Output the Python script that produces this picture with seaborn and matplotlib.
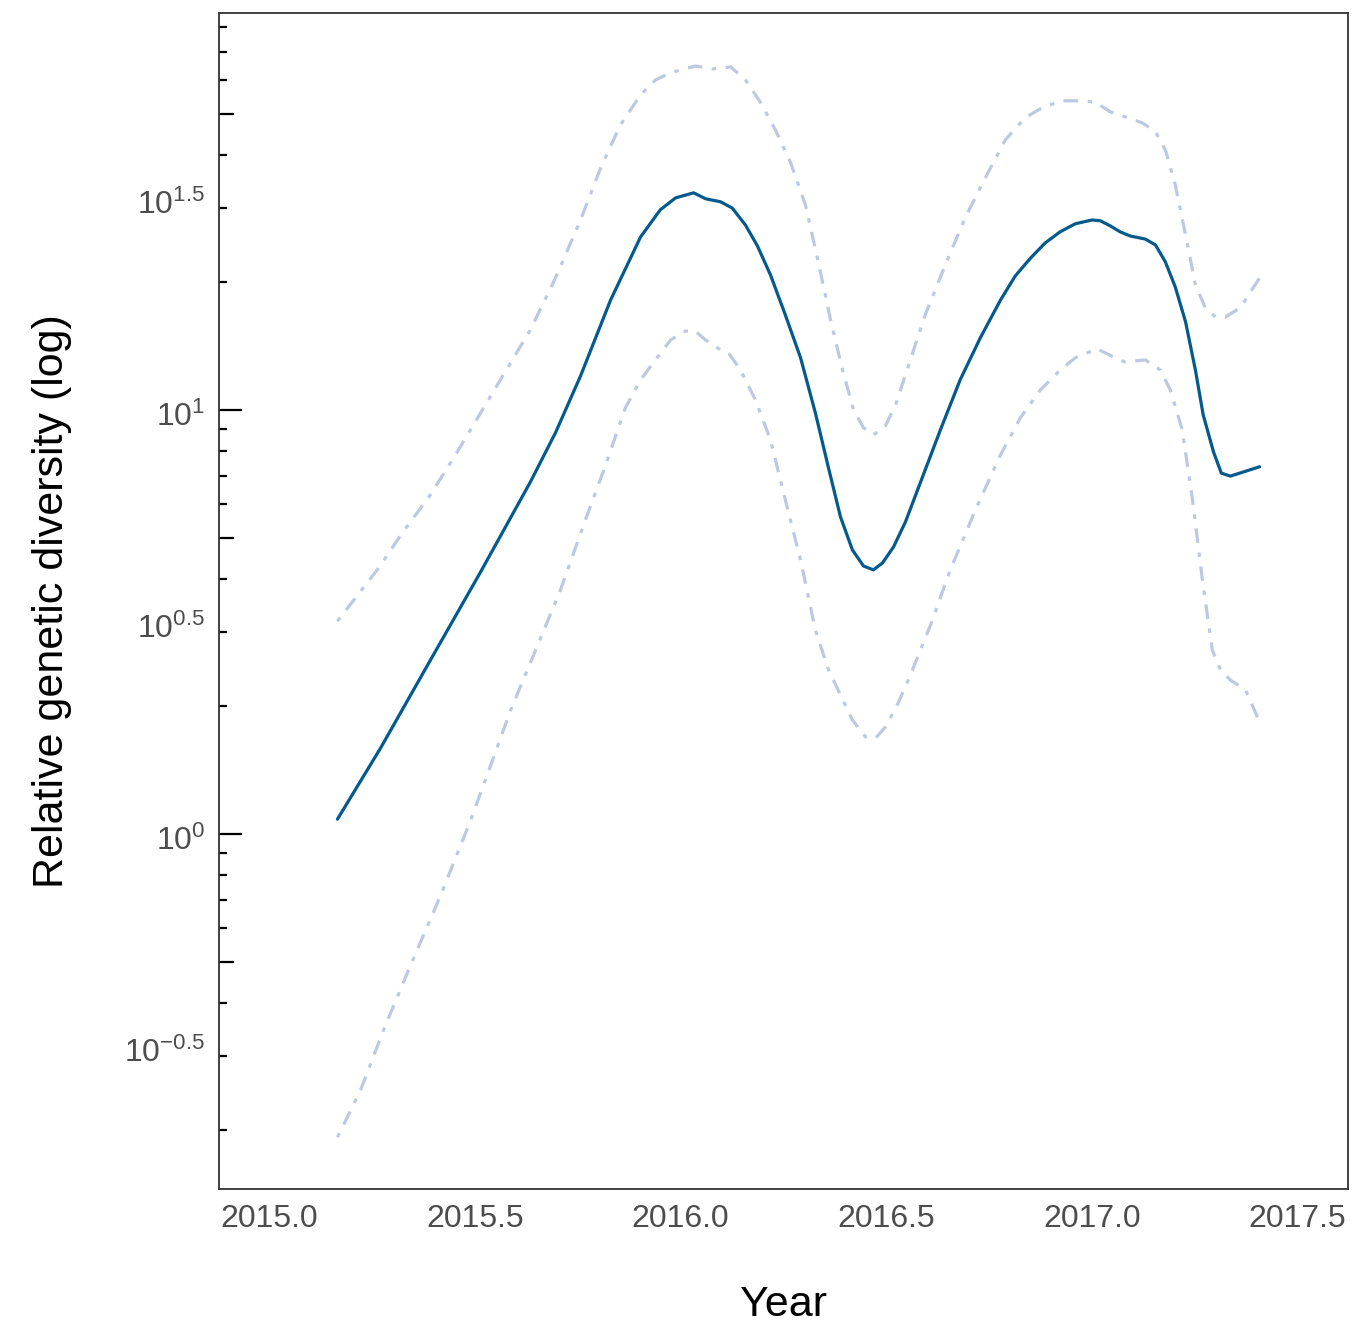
import numpy as np
import pandas as pd
import matplotlib
matplotlib.use("Agg")
import matplotlib.pyplot as plt
import matplotlib.transforms as mtransforms
import seaborn as sns

# ---- data (years, log10 relative genetic diversity) ----
mean_year = [2015.166, 2015.271, 2015.392, 2015.514, 2015.635, 2015.696, 2015.757, 2015.830,
             2015.903, 2015.951, 2015.988, 2016.032, 2016.061, 2016.097, 2016.126, 2016.158,
             2016.187, 2016.219, 2016.255, 2016.292, 2016.328, 2016.360, 2016.389, 2016.418,
             2016.445, 2016.469, 2016.491, 2016.518, 2016.547, 2016.583, 2016.632, 2016.680,
             2016.729, 2016.778, 2016.814, 2016.851, 2016.887, 2016.923, 2016.960, 2017.001,
             2017.021, 2017.045, 2017.069, 2017.094, 2017.130, 2017.155, 2017.179, 2017.203,
             2017.228, 2017.252, 2017.271, 2017.296, 2017.315, 2017.337, 2017.408]
mean_log10 = [0.035, 0.203, 0.410, 0.618, 0.830, 0.946, 1.080, 1.259,
              1.408, 1.472, 1.500, 1.512, 1.498, 1.491, 1.476, 1.436,
              1.387, 1.318, 1.224, 1.123, 0.993, 0.863, 0.748, 0.670,
              0.632, 0.623, 0.639, 0.677, 0.736, 0.828, 0.953, 1.071,
              1.170, 1.259, 1.316, 1.358, 1.394, 1.420, 1.439, 1.448,
              1.446, 1.434, 1.420, 1.410, 1.403, 1.389, 1.349, 1.290,
              1.208, 1.094, 0.988, 0.901, 0.851, 0.844, 0.866]

upper_year = [2015.166, 2015.210, 2015.266, 2015.320, 2015.392, 2015.453, 2015.514, 2015.574,
              2015.635, 2015.696, 2015.757, 2015.806, 2015.854, 2015.903, 2015.939, 2015.976,
              2016.036, 2016.078, 2016.122, 2016.158, 2016.194, 2016.231, 2016.267, 2016.304,
              2016.335, 2016.365, 2016.394, 2016.421, 2016.445, 2016.469, 2016.498, 2016.523,
              2016.559, 2016.595, 2016.644, 2016.692, 2016.741, 2016.790, 2016.838, 2016.887,
              2016.935, 2016.972, 2017.008, 2017.045, 2017.081, 2017.123, 2017.155, 2017.179,
              2017.203, 2017.228, 2017.252, 2017.276, 2017.301, 2017.325, 2017.361, 2017.408]
upper_log10 = [0.502, 0.557, 0.627, 0.705, 0.800, 0.894, 0.993, 1.090,
               1.189, 1.311, 1.448, 1.571, 1.672, 1.743, 1.778, 1.795,
               1.811, 1.804, 1.809, 1.778, 1.726, 1.660, 1.585, 1.483,
               1.349, 1.212, 1.094, 1.000, 0.958, 0.941, 0.962, 1.012,
               1.118, 1.224, 1.342, 1.453, 1.547, 1.637, 1.689, 1.717,
               1.729, 1.729, 1.726, 1.703, 1.691, 1.677, 1.656, 1.613,
               1.531, 1.413, 1.295, 1.241, 1.219, 1.219, 1.241, 1.311]

lower_year = [2015.166, 2015.222, 2015.283, 2015.344, 2015.417, 2015.490, 2015.539, 2015.587,
              2015.648, 2015.708, 2015.769, 2015.818, 2015.866, 2015.903, 2015.939, 2015.976,
              2016.012, 2016.036, 2016.061, 2016.097, 2016.117, 2016.146, 2016.182, 2016.219,
              2016.255, 2016.292, 2016.328, 2016.360, 2016.389, 2016.418, 2016.450, 2016.474,
              2016.498, 2016.527, 2016.559, 2016.608, 2016.656, 2016.717, 2016.778, 2016.826,
              2016.875, 2016.923, 2016.960, 2017.013, 2017.057, 2017.081, 2017.130, 2017.167,
              2017.191, 2017.220, 2017.245, 2017.269, 2017.293, 2017.313, 2017.337, 2017.374,
              2017.408]
lower_log10 = [-0.715, -0.604, -0.450, -0.309, -0.144, 0.033, 0.163, 0.292,
               0.434, 0.575, 0.741, 0.870, 1.005, 1.071, 1.118, 1.165,
               1.186, 1.186, 1.165, 1.142, 1.134, 1.094, 1.024, 0.929,
               0.788, 0.646, 0.481, 0.387, 0.328, 0.269, 0.229, 0.226,
               0.252, 0.304, 0.375, 0.493, 0.623, 0.764, 0.894, 0.981,
               1.047, 1.094, 1.123, 1.144, 1.123, 1.113, 1.118, 1.094,
               1.047, 0.953, 0.788, 0.599, 0.434, 0.387, 0.363, 0.340,
               0.264]

x_ticks = [2015.0, 2015.5, 2016.0, 2016.5, 2017.0, 2017.5]
x_ticklabels = ["2015.0", "2015.5", "2016.0", "2016.5", "2017.0", "2017.5"]
y_major_exp = [-0.5, 0, 0.5, 1, 1.5]
y_ticklabels = [r"$10^{-0.5}$", r"$10^{0}$", r"$10^{0.5}$", r"$10^{1}$", r"$10^{1.5}$"]

# ---- style ----
sns.set_style("white")
plt.rcParams["font.family"] = ["Liberation Sans", "DejaVu Sans"]
plt.rcParams["mathtext.fontset"] = "custom"
plt.rcParams["mathtext.rm"] = "Liberation Sans"
plt.rcParams["mathtext.it"] = "Liberation Sans:italic"
plt.rcParams["mathtext.default"] = "regular"

dark = "#045a8d"
light = "#bdc9e1"

fig = plt.figure(figsize=(13.57, 13.40), dpi=100)
ax = fig.add_axes([219 / 1357, (1340 - 1189) / 1340, (1348 - 219) / 1357, (1189 - 13) / 1340])

mean_df = pd.DataFrame({"Year": mean_year, "value": 10 ** np.array(mean_log10)})
upper_df = pd.DataFrame({"Year": upper_year, "value": 10 ** np.array(upper_log10)})
lower_df = pd.DataFrame({"Year": lower_year, "value": 10 ** np.array(lower_log10)})

dotdash = (0, (1.4, 3, 4.6, 3))
sns.lineplot(data=upper_df, x="Year", y="value", ax=ax, color=light, linewidth=2.3,
             linestyle=dotdash, estimator=None, sort=False)
sns.lineplot(data=lower_df, x="Year", y="value", ax=ax, color=light, linewidth=2.3,
             linestyle=dotdash, estimator=None, sort=False)
sns.lineplot(data=mean_df, x="Year", y="value", ax=ax, color=dark, linewidth=2.3,
             estimator=None, sort=False)

ax.set_yscale("log")
ax.set_xlim(2014.878, 2017.623)
ax.set_ylim(10 ** -0.837, 10 ** 1.936)

ax.set_xticks(x_ticks)
ax.set_xticklabels(x_ticklabels)
ax.yaxis.set_minor_locator(matplotlib.ticker.NullLocator())
ax.set_yticks([10 ** e for e in y_major_exp])
ax.set_yticklabels(y_ticklabels)

ax.tick_params(axis="both", which="major", direction="out", length=7, width=1.3,
               color="#333333", labelcolor="#4d4d4d", labelsize=23, pad=4)
ax.tick_params(axis="y", pad=3)

# nudge y tick labels down slightly (ggplot centres the whole label box)
shift = mtransforms.ScaledTranslation(0, -4 / 100, fig.dpi_scale_trans)
for lab in ax.get_yticklabels():
    lab.set_transform(lab.get_transform() + shift)

for s in ax.spines.values():
    s.set_color("#333333")
    s.set_linewidth(1.3)
    s.set_visible(True)

# annotation log ticks (inside, from left edge)
ytr = ax.get_yaxis_transform()
panel_w = 1348 - 219
for dec in [0.1, 1, 10]:
    for m in range(1, 10):
        v = dec * m
        if not (10 ** -0.837 <= v <= 10 ** 1.936):
            continue
        if m == 1:
            L = 23
        elif m == 5:
            L = 15
        else:
            L = 8
        ax.plot([0, L / panel_w], [v, v], transform=ytr, color="black",
                linewidth=1.6, solid_capstyle="butt", clip_on=False)

ax.set_xlabel("")
ax.set_ylabel("")
fig.text(783.5 / 1357, 1 - 1305 / 1340, "Year", fontsize=31, color="black",
         ha="center", va="center")
fig.text(52 / 1357, 1 - 601 / 1340, "Relative genetic diversity (log)", fontsize=31,
         color="black", ha="center", va="center", rotation=90)

fig.savefig("out.png", dpi=100, facecolor="white")
